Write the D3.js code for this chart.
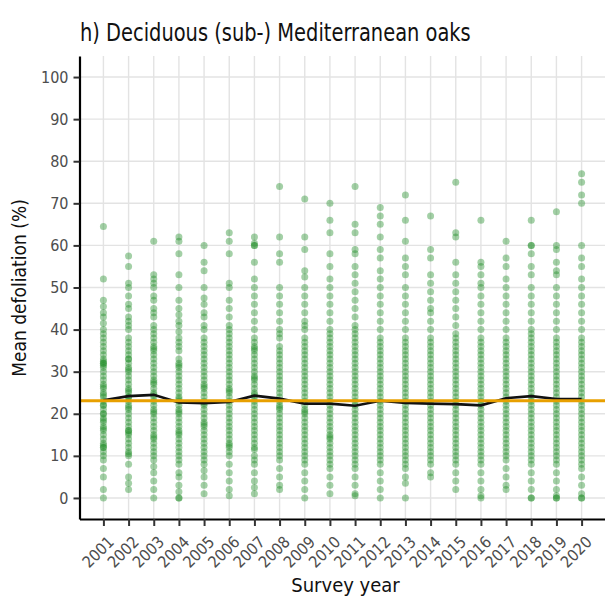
<!DOCTYPE html>
<html>
<head>
<meta charset="utf-8">
<script src="https://cdn.jsdelivr.net/npm/d3@7"></script>
<style>
  html, body { margin: 0; padding: 0; background: #fff; }
  svg { display: block; }
  text { font-family: "DejaVu Sans Condensed", "Liberation Sans", sans-serif; }
</style>
</head>
<body>
<svg id="chart" width="605" height="601"></svg>
<script>
// Survey years and the annual mean defoliation of all plots
const years = [2001, 2002, 2003, 2004, 2005, 2006, 2007, 2008, 2009, 2010,
               2011, 2012, 2013, 2014, 2015, 2016, 2017, 2018, 2019, 2020];
const meanDefoliation = [23.2, 24.2, 24.5, 22.7, 22.5, 22.8, 24.3, 23.6, 22.4, 22.4,
                         21.9, 23.1, 22.6, 22.4, 22.3, 22.0, 23.7, 24.2, 23.5, 23.5];
const overallMean = 23.1;
const yTicks = [0, 10, 20, 30, 40, 50, 60, 70, 80, 90, 100];

// Plot-level mean defoliation (%), one array per survey year
const d2001 = [0, 2, 5, 7, 9, 10, 11, 12, 12, 12.5, 13, 14, 15, 16, 16.5, 17, 18, 18.5, 19, 20, 20, 21, 22, 22, 23, 24, 24.5, 25, 26, 26.5, 27, 28, 29, 30, 31, 31.5, 32, 32, 32.5, 33, 34, 35, 36, 37, 38, 39, 40, 41.5, 43, 44, 45.5, 47, 52, 64.5];
const d2002 = [2, 3.5, 5, 8, 10, 10.5, 11, 12, 13, 14, 15, 15.5, 16, 16, 17, 18, 19, 20, 21, 21.5, 22, 23, 24, 24, 25, 25.5, 26, 27, 28, 29, 30, 30.5, 31, 32, 33, 33, 34, 35, 36, 37, 38, 40, 41, 42, 43, 45, 46, 48, 50, 51, 55, 57.5];
const d2003 = [0, 2, 4, 6, 7.5, 9, 10, 11, 12, 13, 14, 14.5, 15, 16, 17, 18, 19, 20, 20.5, 21, 22, 23, 24, 24.5, 25, 26, 27, 27.5, 28, 29, 30, 31, 32, 33, 34, 35, 35.5, 36, 37, 38, 39, 40, 41, 43, 44, 45, 47, 48, 50, 51, 52, 53, 61];
const d2004 = [0, 0, 1.5, 3, 5, 6, 8, 9, 10, 11, 12, 13, 14, 15, 15.5, 16, 17, 18, 19, 20, 20.5, 21, 22, 23, 23.5, 24, 25, 26, 27, 28, 29, 30, 31, 31.5, 32, 33, 35, 36, 37, 38, 39.5, 41, 42, 43.5, 45, 47, 50, 53, 58, 61, 62];
const d2005 = [1, 3, 5, 6.5, 8, 9, 10, 11, 12, 13, 14, 15, 16, 17, 17.5, 18, 19, 20, 21, 22, 22.5, 23, 24, 25, 26, 26.5, 27, 28, 29, 30, 31, 32, 33, 34, 35, 36, 37, 38, 40, 41, 43, 44, 46, 47.5, 50, 54, 56, 60];
const d2006 = [0.5, 2, 4, 6, 8, 10, 11, 12, 12.5, 13, 14, 15, 16, 17, 18, 19, 20, 21, 22, 23, 24, 25, 25.5, 26, 27, 28, 29, 30, 31, 32, 33, 34, 35, 36, 37, 38, 39, 40, 41, 43, 45, 47, 50, 51, 58, 61, 63];
const d2007 = [1, 2.5, 4, 6, 8, 9, 10, 11.5, 12, 13, 14, 15, 16, 17, 18, 19, 20, 21, 22, 23, 24, 24.5, 25, 26, 27, 28, 28.5, 29, 30, 31, 32, 33, 34, 35, 35.5, 36, 37, 38, 40, 42, 44, 46, 48, 50, 52, 56, 60, 60, 60.5, 62];
const d2008 = [2, 3, 5, 7, 9, 10, 11, 12, 13, 14, 15, 16, 17, 18, 19, 20, 21, 21.5, 22, 23, 24, 25, 26, 27, 28, 29, 30, 31, 32, 33, 34, 35, 36, 38, 39, 40, 42, 44, 46, 48, 50, 56, 58, 62, 74];
const d2009 = [0, 2, 4, 6, 8, 9, 10, 11, 12, 13, 14, 15, 16, 17, 18, 19, 20, 20.5, 21, 22, 23, 24, 25, 26, 27, 28, 29, 30, 31, 32, 33, 34, 35, 36, 37, 38, 40, 41, 42, 44, 46, 48, 50, 52.5, 54, 59, 62, 71];
const d2010 = [1, 3, 5, 7, 8, 9, 10, 11, 12, 13, 14, 14.5, 15, 16, 17, 18, 19, 20, 21, 22, 23, 24, 25, 26, 27, 28, 29, 30, 31, 32, 33, 34, 35, 36, 37, 38, 39, 40, 42, 44, 46, 48, 50, 52, 55, 58, 63, 66, 70];
const d2011 = [0.5, 1, 3, 5, 7, 8, 9, 10, 11, 12, 13, 14, 15, 16, 17, 18, 19, 20, 21, 22, 23, 24, 25, 26, 27, 28, 29, 30, 31, 32, 33, 34, 35, 36, 37, 38, 39, 40, 41, 43, 45, 47, 49, 51, 53, 55, 58, 59, 63, 65, 74];
const d2012 = [0, 2, 4, 6, 8, 9, 10, 11, 12, 13, 14, 15, 16, 17, 18, 19, 20, 21, 22, 23, 24, 25, 26, 27, 28, 29, 30, 31, 32, 33, 34, 35, 36, 37, 38, 40, 42, 44, 46, 48, 50, 52, 54, 57, 59, 62, 65, 67, 69];
const d2013 = [0, 3.5, 5, 7, 8, 9, 10, 11, 12, 13, 14, 15, 16, 17, 18, 19, 20, 21, 22, 23, 24, 25, 26, 27, 28, 29, 30, 31, 32, 33, 34, 35, 36, 37, 38, 40, 42, 44, 46, 48, 50, 53, 55, 57, 61, 66, 72];
const d2014 = [5, 6, 8, 9, 10, 11, 12, 13, 14, 15, 16, 17, 18, 19, 20, 21, 22, 23, 24, 25, 26, 27, 28, 29, 30, 31, 32, 33, 34, 35, 36, 37, 38, 40, 42, 44, 45, 47, 49, 51, 53, 57, 59, 67];
const d2015 = [2, 4, 6, 8, 9, 10, 11, 12, 13, 14, 15, 16, 17, 18, 19, 20, 21, 22, 23, 24, 25, 26, 27, 28, 29, 30, 31, 32, 33, 34, 35, 36, 37, 38, 39, 41, 43, 45, 47, 49, 51, 53, 56, 62, 63, 75];
const d2016 = [0, 0.5, 2, 4, 6, 8, 9, 10, 11, 12, 13, 14, 15, 16, 17, 18, 19, 20, 21, 22, 23, 24, 25, 26, 27, 28, 29, 30, 31, 32, 33, 34, 35, 36, 37, 38, 40, 42, 44, 46, 48, 50, 51, 53, 55, 56, 66];
const d2017 = [2, 3, 5, 7, 9, 10, 11, 12, 13, 14, 15, 16, 17, 18, 19, 20, 21, 22, 23, 24, 25, 26, 27, 28, 29, 30, 31, 32, 33, 34, 35, 36, 37, 38, 40, 42, 44, 46, 48, 50, 52, 55, 57, 61];
const d2018 = [0, 0, 2, 4, 6, 8, 9, 10, 11, 12, 13, 14, 15, 16, 17, 18, 19, 20, 21, 22, 23, 24, 25, 26, 27, 28, 29, 30, 31, 32, 33, 34, 35, 36, 37, 38, 39, 40, 42, 44, 46, 48, 50, 53, 55, 58, 60, 60, 66];
const d2019 = [0, 0, 0.5, 2, 4, 6, 8, 9, 10, 11, 12, 13, 14, 15, 16, 17, 18, 19, 20, 21, 22, 23, 24, 25, 26, 27, 28, 29, 30, 31, 32, 33, 34, 35, 36, 37, 38, 40, 42, 44, 46, 48, 50, 53, 54, 56, 59, 60, 68];
const d2020 = [0, 0, 1, 3, 5, 7, 8, 9, 10, 11, 12, 13, 14, 15, 16, 17, 18, 19, 20, 21, 22, 23, 24, 25, 26, 27, 28, 29, 30, 31, 32, 33, 34, 35, 36, 37, 38, 40, 42, 44, 46, 48, 50, 52, 55, 57, 60, 70, 72, 75, 77];

const plotValues = [d2001, d2002, d2003, d2004, d2005, d2006, d2007, d2008, d2009, d2010,
                    d2011, d2012, d2013, d2014, d2015, d2016, d2017, d2018, d2019, d2020];

const svg = d3.select("#chart");
const panel = { left: 79.5, right: 605.5, top: 56, bottom: 519 };

const x = d3.scaleLinear().domain([2000.05, 2020.95]).range([panel.left, panel.right]);
const y = d3.scaleLinear().domain([-5, 105]).range([panel.bottom, panel.top]);

// Title (horizontally condensed)
svg.append("text")
  .attr("transform", "translate(80,41) scale(0.9,1)")
  .attr("font-size", 24)
  .attr("fill", "#111")
  .text("h) Deciduous (sub-) Mediterranean oaks");

// Grid
const grid = svg.append("g").attr("stroke", "#e3e3e3").attr("stroke-width", 1.4);
grid.selectAll("line.v").data(years).join("line")
  .attr("x1", d => x(d)).attr("x2", d => x(d))
  .attr("y1", panel.top).attr("y2", panel.bottom);
grid.selectAll("line.h").data(yTicks).join("line")
  .attr("x1", panel.left).attr("x2", panel.right)
  .attr("y1", d => y(d)).attr("y2", d => y(d));

// Plot points
const pts = years.flatMap((yr, i) => plotValues[i].map(v => ({ year: yr, value: v })));
svg.append("g")
  .selectAll("circle").data(pts).join("circle")
  .attr("cx", d => x(d.year))
  .attr("cy", d => y(d.value))
  .attr("r", 3.5)
  .attr("fill", "#24902a")
  .attr("fill-opacity", 0.42);

// Annual mean line
const line = d3.line().x((d, i) => x(years[i])).y(d => y(d));
svg.append("path")
  .datum(meanDefoliation)
  .attr("d", line)
  .attr("fill", "none")
  .attr("stroke", "#111")
  .attr("stroke-width", 2.6);

// Long-term mean
svg.append("line")
  .attr("x1", panel.left).attr("x2", panel.right)
  .attr("y1", y(overallMean)).attr("y2", y(overallMean))
  .attr("stroke", "#E8A000")
  .attr("stroke-width", 3);

// Axes
const yAxis = svg.append("g")
  .attr("transform", `translate(${panel.left},0)`)
  .call(d3.axisLeft(y).tickValues(yTicks).tickSize(6).tickSizeOuter(0).tickPadding(5));
const xAxis = svg.append("g")
  .attr("transform", `translate(0,${panel.bottom})`)
  .call(d3.axisBottom(x).tickValues(years).tickFormat(d3.format("d")).tickSize(7).tickSizeOuter(0));

[yAxis, xAxis].forEach(g => {
  g.select(".domain").attr("stroke", "#000").attr("stroke-width", 2.2);
  g.selectAll(".tick line").attr("stroke", "#333").attr("stroke-width", 2);
  g.selectAll(".tick text").attr("fill", "#4d4d4d").attr("font-size", 16)
    .attr("font-family", "'DejaVu Sans Condensed', 'Liberation Sans', sans-serif");
});

xAxis.selectAll(".tick text")
  .attr("text-anchor", "end")
  .attr("dy", "0.35em")
  .attr("transform", "translate(7,20) rotate(-45)")
  .attr("y", 0).attr("x", 0);

// Axis titles
svg.append("text")
  .attr("x", (panel.left + panel.right) / 2 + 3).attr("y", 592)
  .attr("text-anchor", "middle")
  .attr("font-size", 20)
  .attr("fill", "#111")
  .text("Survey year");

svg.append("text")
  .attr("transform", "translate(26,288) rotate(-90)")
  .attr("text-anchor", "middle")
  .attr("font-size", 19)
  .attr("fill", "#111")
  .text("Mean defoliation (%)");
</script>
</body>
</html>
